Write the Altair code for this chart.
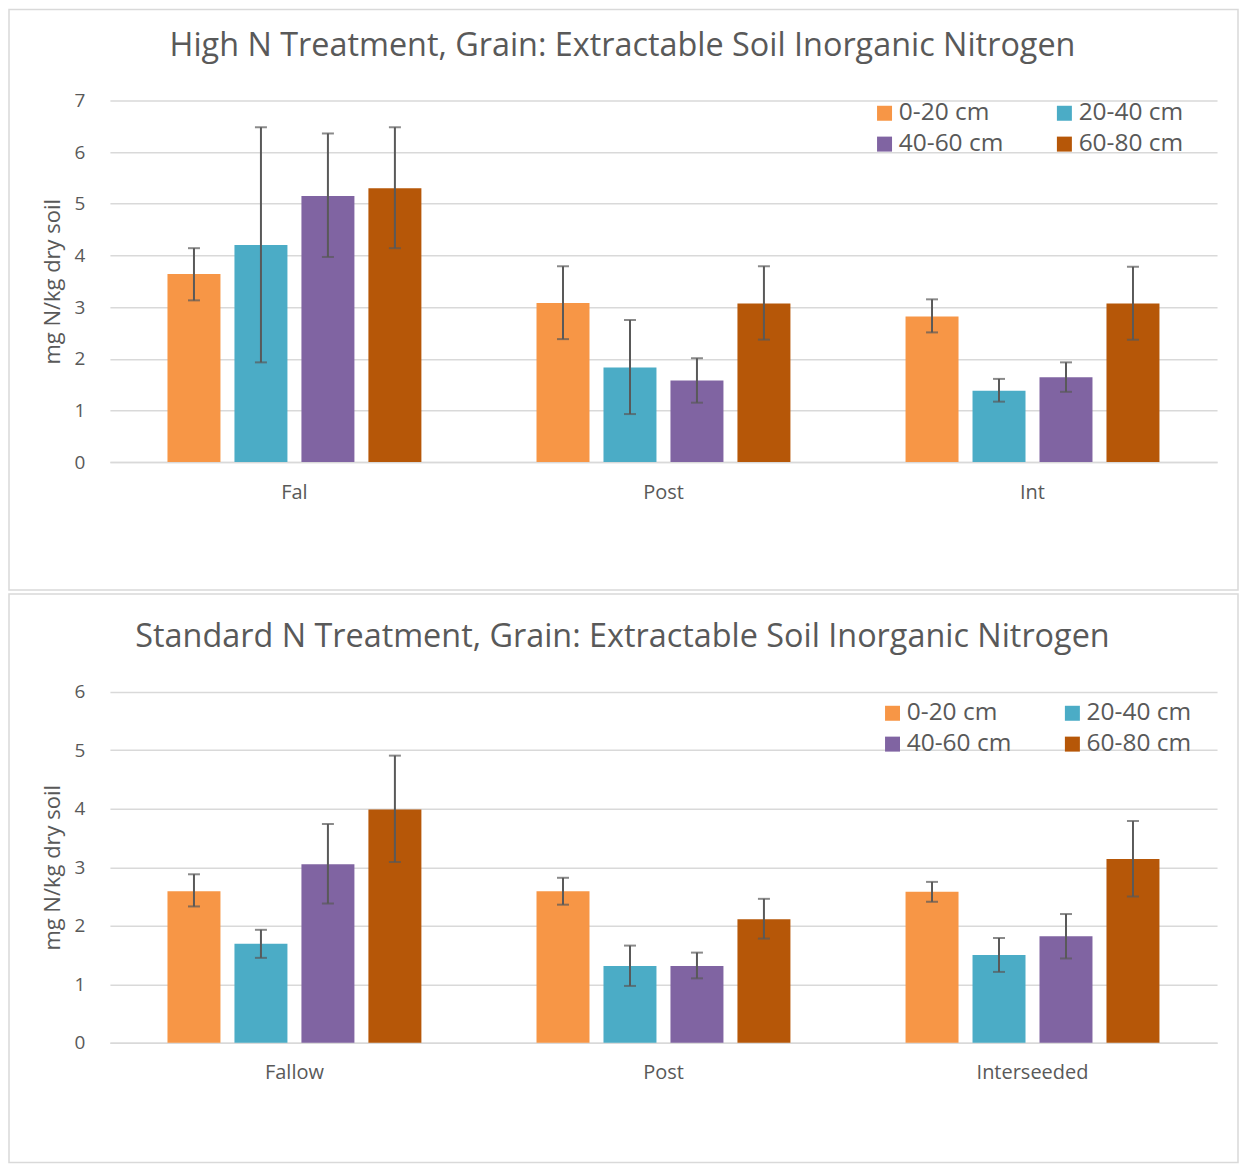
import altair as alt
import pandas as pd

depths = ["0-20 cm", "20-40 cm", "40-60 cm", "60-80 cm"]
colors = ["#F79646", "#4BACC6", "#8064A2", "#B65708"]

top_groups = ["Fal", "Post", "Int"]
top_mean = [3.64, 4.20, 5.15, 5.30, 3.08, 1.83, 1.58, 3.07, 2.82, 1.38, 1.64, 3.07]
top_hi = [4.14, 6.48, 6.36, 6.48, 3.79, 2.75, 2.01, 3.79, 3.15, 1.61, 1.93, 3.78]
top_lo = [3.13, 1.93, 3.97, 4.14, 2.38, 0.93, 1.15, 2.37, 2.51, 1.17, 1.36, 2.37]

bot_groups = ["Fallow", "Post", "Interseeded"]
bot_mean = [2.59, 1.69, 3.05, 3.99, 2.59, 1.31, 1.31, 2.11, 2.58, 1.50, 1.82, 3.14]
bot_hi = [2.88, 1.93, 3.74, 4.91, 2.82, 1.66, 1.54, 2.46, 2.75, 1.79, 2.20, 3.79]
bot_lo = [2.33, 1.45, 2.38, 3.09, 2.36, 0.97, 1.10, 1.78, 2.41, 1.21, 1.44, 2.50]

FONT = "Open Sans"
TXT = "#595959"
GRID = "#d9d9d9"
W = 1108


def make_df(groups, mean, hi, lo):
    rows = []
    i = 0
    for g in groups:
        for d in depths:
            rows.append({"group": g, "depth": d, "mean": mean[i], "hi": hi[i], "lo": lo[i]})
            i += 1
    return pd.DataFrame(rows)


def panel(groups, mean, hi, lo, ymax, height, title, title_offset,
          legend_x, legend_y, box_top, box_bottom):
    df = make_df(groups, mean, hi, lo)
    xenc = alt.X("group:N", sort=groups,
                 scale=alt.Scale(paddingInner=0.274, paddingOuter=0.137),
                 axis=alt.Axis(title=None, labelAngle=0, ticks=False,
                               domainColor=GRID, domainWidth=1.5,
                               labelFontSize=20, labelColor=TXT, labelFont=FONT,
                               labelPadding=20))
    xoff = alt.XOffset("depth:N", sort=depths,
                       scale=alt.Scale(paddingInner=0.209, paddingOuter=0.1045))
    yscale = alt.Scale(domain=[0, ymax], nice=False)
    yaxis = alt.Axis(values=list(range(ymax + 1)), format="d", grid=True, gridColor=GRID,
                     gridWidth=1.5, domain=False, ticks=False,
                     labelFontSize=19, labelColor=TXT, labelFont=FONT, labelPadding=25,
                     title="mg N/kg dry soil", titleFontSize=22, titleColor=TXT,
                     titleFont=FONT, titleFontWeight="normal", titlePadding=10)

    border = alt.Chart(pd.DataFrame({"k": [0]})).mark_rect(
        fill="transparent", stroke=GRID, strokeWidth=1.5
    ).encode(x=alt.value(-101), x2=alt.value(1129),
             y=alt.value(box_top), y2=alt.value(box_bottom))

    base = alt.Chart(df)
    bars = base.mark_bar().encode(
        x=xenc, xOffset=xoff,
        y=alt.Y("mean:Q", scale=yscale, axis=yaxis),
        color=alt.Color("depth:N", sort=depths,
                        scale=alt.Scale(domain=depths, range=colors),
                        legend=alt.Legend(orient="none", legendX=legend_x, legendY=legend_y,
                                          columns=2, direction="horizontal",
                                          title=None, symbolType="square",
                                          symbolSize=225, symbolStrokeWidth=0,
                                          labelFontSize=24.5, labelColor=TXT, labelFont=FONT,
                                          columnPadding=48, rowPadding=6, labelOffset=2,
                                          padding=0)),
    )
    rules = base.mark_rule(color="#595959", strokeWidth=2).encode(
        x=xenc, xOffset=xoff, y="lo:Q", y2="hi:Q")
    cap_hi = base.mark_tick(color="#595959", size=12, thickness=2).encode(
        x=xenc, xOffset=xoff, y="hi:Q")
    cap_lo = base.mark_tick(color="#595959", size=12, thickness=2).encode(
        x=xenc, xOffset=xoff, y="lo:Q")

    return alt.layer(border, bars, rules, cap_hi, cap_lo).properties(
        width=W, height=height,
        title=alt.TitleParams(text=title, fontSize=32.4, font=FONT, color=TXT,
                              fontWeight="normal", anchor="middle",
                              offset=title_offset, dx=-41),
    )


top = panel(top_groups, top_mean, top_hi, top_lo, 7, 362,
            "High N Treatment, Grain: Extractable Soil Inorganic Nitrogen", -53.5,
            763, 0.5, -91, 490)
bottom = panel(bot_groups, bot_mean, bot_hi, bot_lo, 6, 351,
               "Standard N Treatment, Grain: Extractable Soil Inorganic Nitrogen", -60.5,
               771, 9, -98, 471)

chart = alt.vconcat(top, bottom, spacing=2).resolve_scale(
    x="independent", y="independent", color="independent"
).resolve_legend(color="independent").properties(padding=0).configure_view(stroke=None)

chart.save("out.html", embed_options={"renderer": "svg", "actions": False})
